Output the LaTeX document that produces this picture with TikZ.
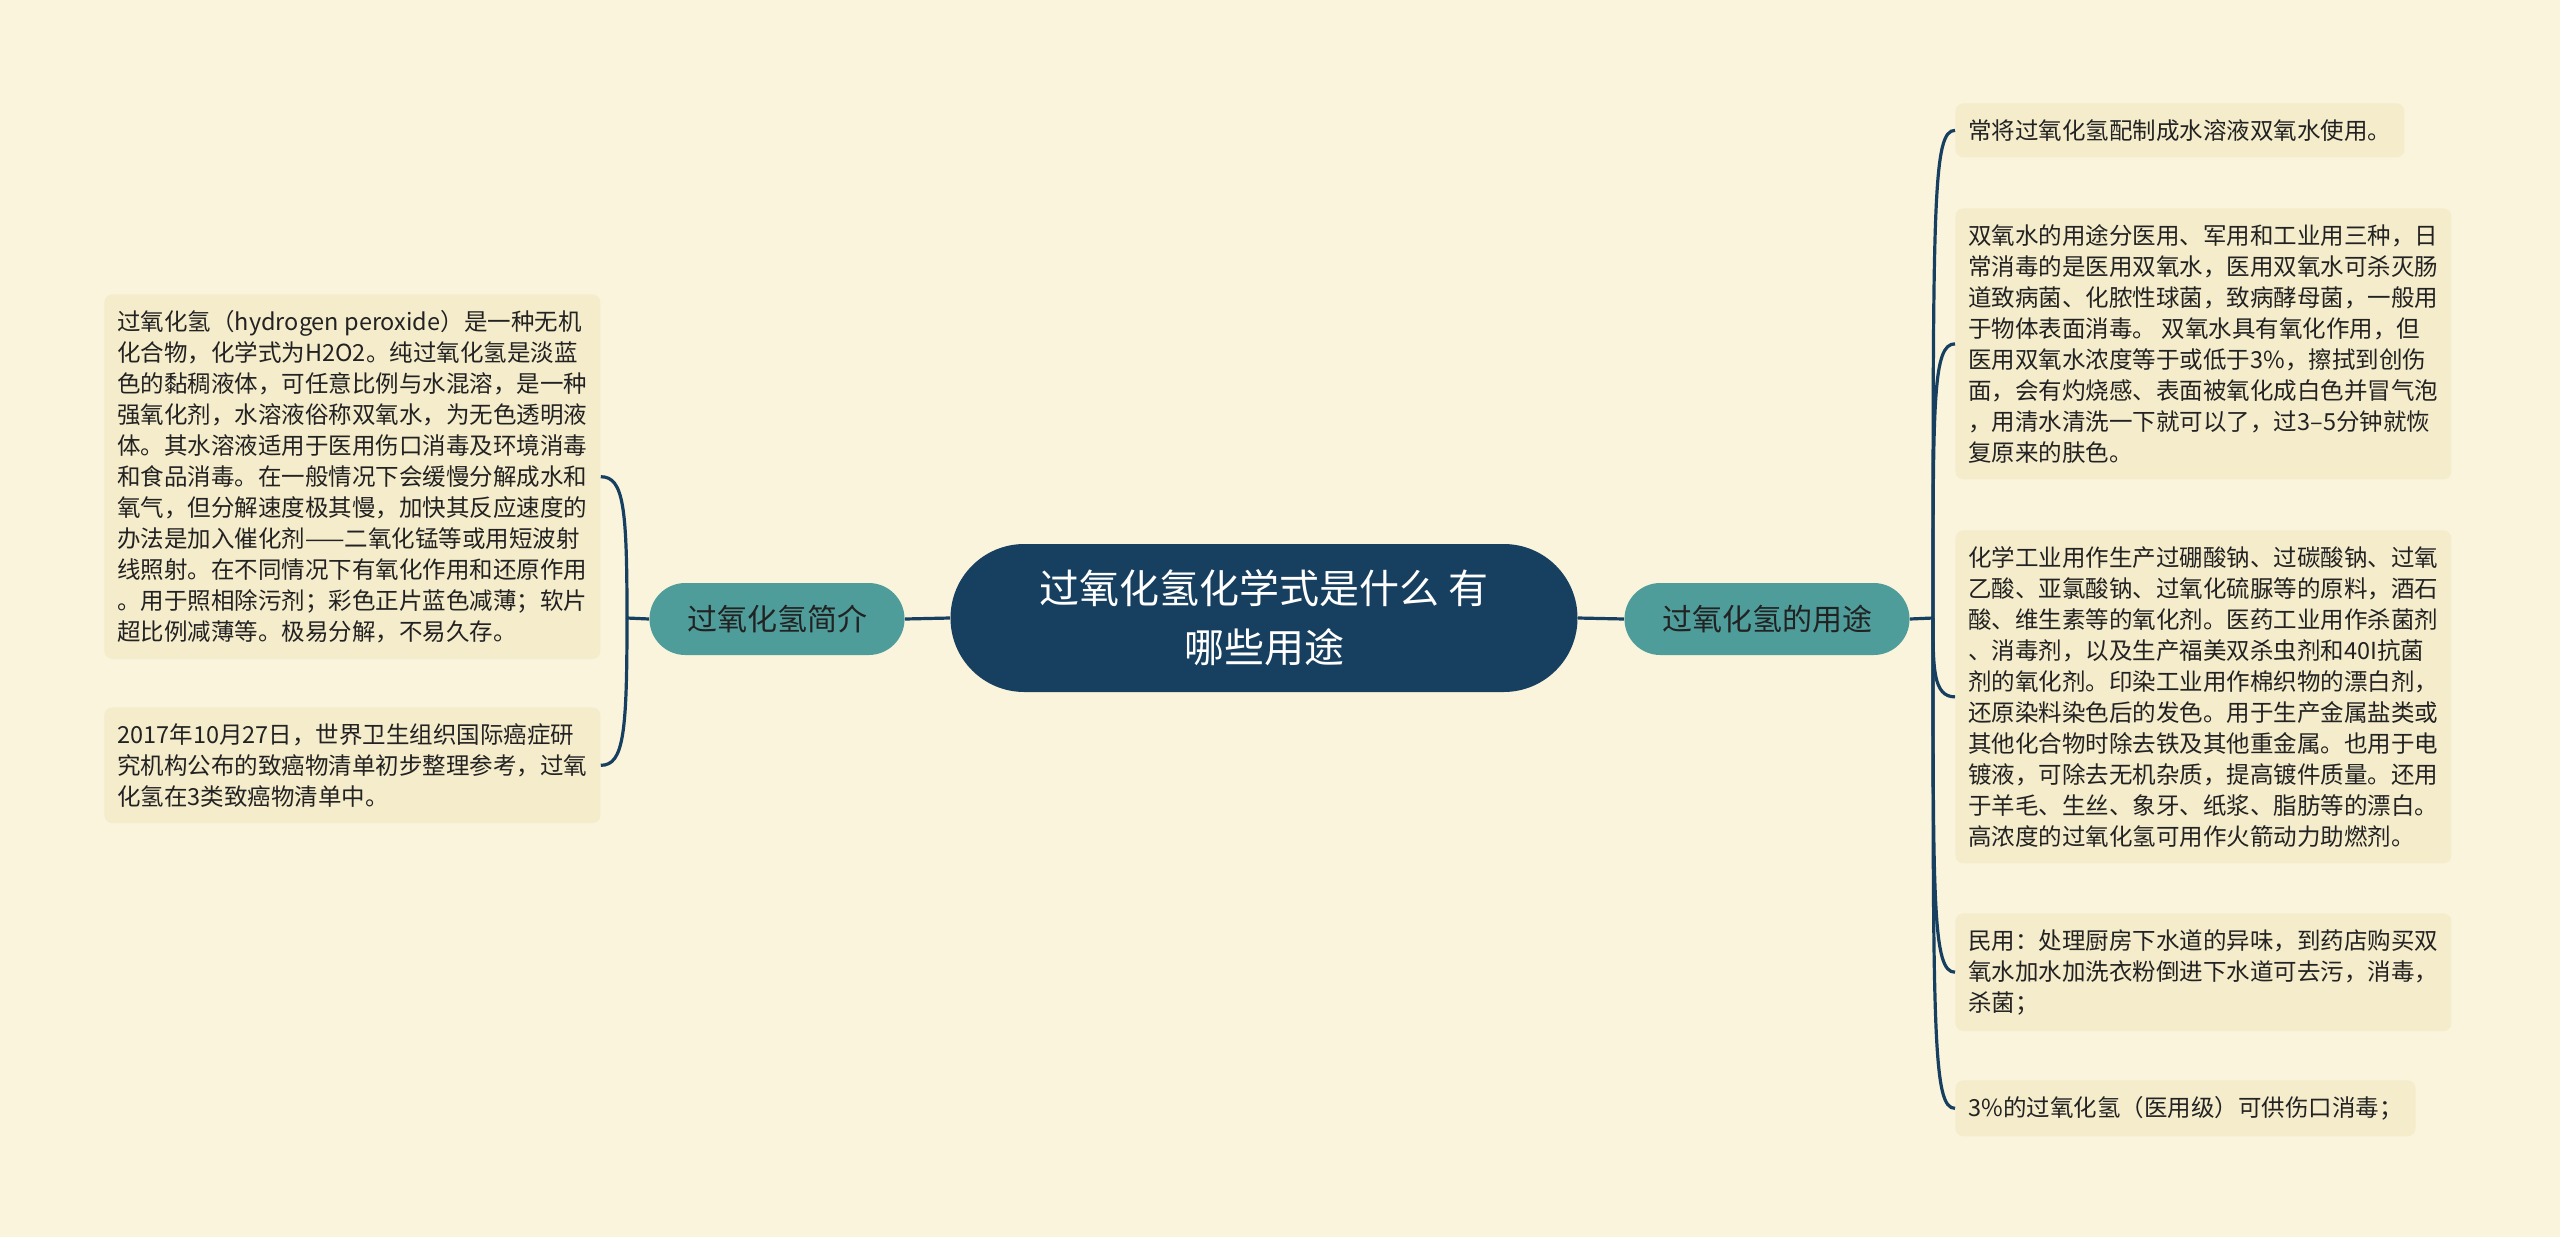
\documentclass[tikz,border=0pt]{standalone}
\usepackage{fontspec}
\setmainfont{Noto Sans CJK SC}
\usepackage{xcolor}
\usepackage{tikz}
\usetikzlibrary{positioning,calc}

\definecolor{bgcream}{HTML}{FAF4DD}
\definecolor{leafcream}{HTML}{F4ECCB}
\definecolor{hubnavy}{HTML}{173F5F}
\definecolor{topicteal}{HTML}{4E9D9A}
\definecolor{inktext}{HTML}{222222}

\begin{document}
\begin{tikzpicture}[x=0.5pt,y=-0.5pt,
    hub/.style={fill=hubnavy,text=white,rounded corners=36.9pt,minimum width=313.5pt,minimum height=74pt,align=center,font=\fontsize{20}{29.5}\selectfont},
    topic/.style={fill=topicteal,text=inktext,rounded corners=17.9pt,minimum height=36pt,font=\fontsize{15}{18}\selectfont},
    leaf/.style={fill=leafcream,text=inktext,rounded corners=4pt,anchor=north west,align=left,inner xsep=6.5pt,inner ysep=8pt,font=\fontsize{11.75}{15.5}\selectfont},
    link/.style={draw=hubnavy,line width=1.6pt}]
            % Background
            \fill[bgcream] (0,0) rectangle (2560,1237);

            % Central topic
            \node[hub] (hub) at (1264,618) {过氧化氢化学式是什么 有\\哪些用途};

            % Main branches
            \node[topic,minimum width=127.5pt] (intro) at (777,619) {过氧化氢简介};
            \node[topic,minimum width=142.5pt] (uses) at (1767,619) {过氧化氢的用途};
            \draw[link] (hub.west) -- (intro.east);
            \draw[link] (hub.east) -- (uses.west);

            % Left leaves
            \node[leaf] (basics) at (104,294) {过氧化氢（hydrogen peroxide）是一种无机\\
            化合物，化学式为H2O2。纯过氧化氢是淡蓝\\
            色的黏稠液体，可任意比例与水混溶，是一种\\
            强氧化剂，水溶液俗称双氧水，为无色透明液\\
            体。其水溶液适用于医用伤口消毒及环境消毒\\
            和食品消毒。在一般情况下会缓慢分解成水和\\
            氧气，但分解速度极其慢，加快其反应速度的\\
            办法是加入催化剂——二氧化锰等或用短波射\\
            线照射。在不同情况下有氧化作用和还原作用\\
            。用于照相除污剂；彩色正片蓝色减薄；软片\\
            超比例减薄等。极易分解，不易久存。};
            \node[leaf] (carcinogen) at (104,707) {2017年10月27日，世界卫生组织国际癌症研\\
            究机构公布的致癌物清单初步整理参考，过氧\\
            化氢在3类致癌物清单中。};

            % Left fork
            \coordinate (lfork) at (627,618);
            \draw[link] (intro.west) -- (lfork);
            \draw[link] (lfork) .. controls +(0,-110) and +(23,0) .. (basics.east);
            \draw[link] (lfork) .. controls +(0,115) and +(23,0) .. (carcinogen.east);

            % Right leaves
            \node[leaf] (dilute) at (1955,103) {常将过氧化氢配制成水溶液双氧水使用。};
            \node[leaf] (medical) at (1955,208) {双氧水的用途分医用、军用和工业用三种，日\\
            常消毒的是医用双氧水，医用双氧水可杀灭肠\\
            道致病菌、化脓性球菌，致病酵母菌，一般用\\
            于物体表面消毒。 双氧水具有氧化作用，但\\
            医用双氧水浓度等于或低于3\%，擦拭到创伤\\
            面，会有灼烧感、表面被氧化成白色并冒气泡\\
            ，用清水清洗一下就可以了，过3–5分钟就恢\\
            复原来的肤色。};
            \node[leaf] (industry) at (1955,530) {化学工业用作生产过硼酸钠、过碳酸钠、过氧\\
            乙酸、亚氯酸钠、过氧化硫脲等的原料，酒石\\
            酸、维生素等的氧化剂。医药工业用作杀菌剂\\
            、消毒剂，以及生产福美双杀虫剂和40I抗菌\\
            剂的氧化剂。印染工业用作棉织物的漂白剂，\\
            还原染料染色后的发色。用于生产金属盐类或\\
            其他化合物时除去铁及其他重金属。也用于电\\
            镀液，可除去无机杂质，提高镀件质量。还用\\
            于羊毛、生丝、象牙、纸浆、脂肪等的漂白。\\
            高浓度的过氧化氢可用作火箭动力助燃剂。};
            \node[leaf] (household) at (1955,913) {民用：处理厨房下水道的异味，到药店购买双\\
            氧水加水加洗衣粉倒进下水道可去污，消毒，\\
            杀菌；};
            \node[leaf] (woundcare) at (1955,1080) {3\%的过氧化氢（医用级）可供伤口消毒；};

            % Right fork
            \coordinate (rfork) at (1933,618);
            \draw[link] (uses.east) -- (rfork);
            \draw[link] (rfork) .. controls +(0,-420) and +(-22,0) .. (dilute.west);
            \draw[link] (rfork) .. controls +(0,-220) and +(-22,0) .. (medical.west);
            \draw[link] (rfork) .. controls +(0,50) and +(-22,0) .. (industry.west);
            \draw[link] (rfork) .. controls +(0,290) and +(-22,0) .. (household.west);
            \draw[link] (rfork) .. controls +(0,420) and +(-22,0) .. (woundcare.west);
\end{tikzpicture}
\end{document}
